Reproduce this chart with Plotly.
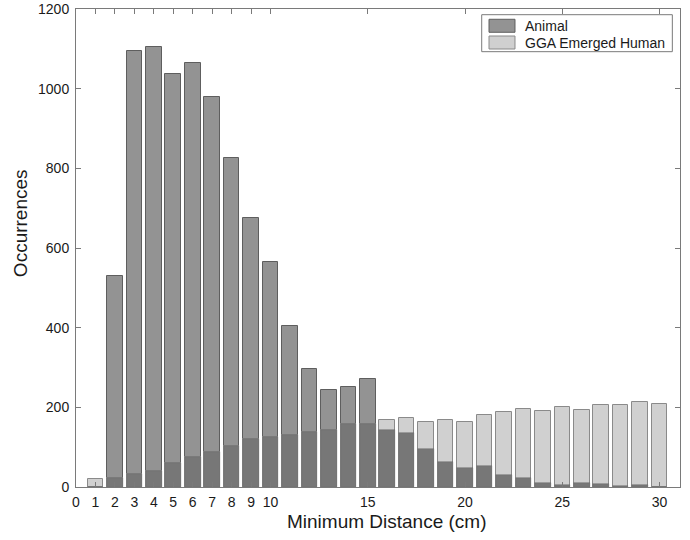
import numpy as np
import plotly.graph_objects as go

# Minimum distance bins (cm)
distance = list(range(1, 31))

# Occurrence counts per bin
animal = [0, 530, 1095, 1105, 1038, 1065, 979, 826, 676, 566,
          404, 296, 243, 252, 270, 142, 135, 96, 63, 47,
          53, 31, 23, 10, 5, 10, 7, 2, 4, 1]
gga_human = [20, 23, 33, 41, 60, 75, 89, 104, 120, 125,
             130, 139, 144, 157, 157, 168, 173, 164, 168, 164,
             181, 189, 197, 192, 202, 194, 205, 206, 213, 208]

x_tick_vals = [0, 1, 2, 3, 4, 5, 6, 7, 8, 9, 10, 15, 20, 25, 30]
y_tick_vals = [0, 200, 400, 600, 800, 1000, 1200]

series_names = ["Animal", "GGA Emerged Human"]
series_colors = ["#939393", "#d0d0d0"]
series_edges = ["#5e5e5e", "#8a8a8a"]

# Region where both histograms overlap is shown darker
overlap = np.minimum(np.array(animal), np.array(gga_human))

FONT = "Liberation Sans, Arial, sans-serif"
TEXT = "#1a1a1a"
AXIS = "#7a7a7a"

fig = go.Figure()
for name, vals, col, edge in zip(series_names, [animal, gga_human], series_colors, series_edges):
    fig.add_trace(go.Bar(
        x=distance, y=vals, name=name, width=0.8, showlegend=False,
        marker=dict(color=col, line=dict(color=edge, width=1)),
    ))
fig.add_trace(go.Bar(
    x=distance, y=overlap, name="overlap", width=0.8, showlegend=False,
    marker=dict(color="#777777", line=dict(color="#6a6a6a", width=0.5)),
))

axis_common = dict(
    showline=True, linecolor=AXIS, linewidth=1, mirror="ticks",
    ticks="inside", ticklen=5, tickcolor=AXIS,
    showgrid=False, zeroline=False, automargin=False,
    tickfont=dict(family=FONT, size=14, color=TEXT),
)

shapes = []
annotations = []

# Legend box drawn in plot-area (paper) coordinates
shapes.append(dict(type="rect", xref="paper", yref="paper",
                   x0=0.6717, x1=0.9873, y0=0.9107, y1=0.9881,
                   line=dict(color=AXIS, width=1), fillcolor="white", layer="above"))
swatch_rows = [(0.9513, 0.9785, 0.9649), (0.9163, 0.9435, 0.9299)]
for (y0, y1, yc), name, col, edge in zip(swatch_rows, series_names, series_colors, series_edges):
    shapes.append(dict(type="rect", xref="paper", yref="paper",
                       x0=0.6838, x1=0.7268, y0=y0, y1=y1,
                       line=dict(color=edge, width=1), fillcolor=col, layer="above"))
    annotations.append(dict(text=name, xref="paper", yref="paper", x=0.7401, y=yc,
                            xanchor="left", yanchor="middle", showarrow=False,
                            font=dict(family=FONT, size=14, color=TEXT)))

# Axis titles
annotations.append(dict(text="Minimum Distance (cm)", xref="paper", yref="paper",
                        x=0.515, y=-0.0732, xanchor="center", yanchor="middle",
                        showarrow=False, font=dict(family=FONT, size=19, color=TEXT)))
annotations.append(dict(text="Occurrences", xref="paper", yref="paper",
                        x=-0.0927, y=0.552, xanchor="center", yanchor="middle",
                        textangle=-90, showarrow=False,
                        font=dict(family=FONT, size=19, color=TEXT)))

fig.update_layout(
    width=690, height=540,
    barmode="overlay",
    paper_bgcolor="white", plot_bgcolor="white",
    margin=dict(l=76, r=10, t=9, b=53),
    font=dict(family=FONT, color=TEXT),
    xaxis=dict(range=[0, 31.05], tickmode="array", tickvals=x_tick_vals,
               ticklabelstandoff=2, **axis_common),
    yaxis=dict(range=[0, 1200], tickmode="array", tickvals=y_tick_vals,
               ticklabelstandoff=3, **axis_common),
    shapes=shapes,
    annotations=annotations,
    showlegend=False,
    bargap=0,
)

fig.write_html("out.html")
